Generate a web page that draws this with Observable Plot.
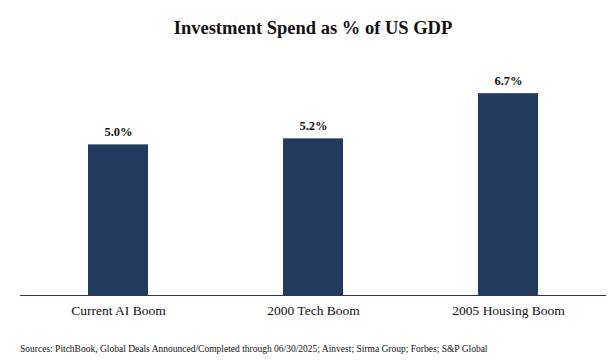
<!DOCTYPE html>
<html>
<head>
<meta charset="utf-8">
<script src="https://cdn.jsdelivr.net/npm/d3@7"></script>
<script src="https://cdn.jsdelivr.net/npm/@observablehq/plot@0.6"></script>
<style>
  body { margin: 0; background: #fff; font-family: "Liberation Serif", "DejaVu Serif", serif; }
  #wrap { width: 616px; height: 363px; position: relative; overflow: hidden; }
  #title { position: absolute; top: 0; left: 20px; width: 586px; height: 50px; line-height: 56px; text-align: center; font-weight: bold; font-size: 18.5px; color: #111; }
  #chart { position: absolute; top: 50px; left: 0; }
  #caption { position: absolute; top: 344px; left: 20px; font-size: 9.5px; color: #111; white-space: nowrap; }
</style>
</head>
<body>
<div id="wrap">
  <div id="title">Investment Spend as % of US GDP</div>
  <div id="chart"></div>
  <div id="caption">Sources: PitchBook, Global Deals Announced/Completed through 06/30/2025; Ainvest; Sirma Group; Forbes; S&amp;P Global</div>
</div>
<script>
const categories = ["Current AI Boom", "2000 Tech Boom", "2005 Housing Boom"];
const values = [5.0, 5.2, 6.7];
const labels = ["5.0%", "5.2%", "6.7%"];

const data = categories.map((c, i) => ({category: c, value: values[i], label: labels[i]}));
const navy = "#213a5d";

const plot = Plot.plot({
  width: 616,
  height: 280,
  marginTop: 4,
  marginBottom: 35,
  marginLeft: 20,
  marginRight: 10,
  style: {fontFamily: "'Liberation Serif', serif", fontSize: "13.5px", color: "#111", background: "transparent"},
  x: {domain: categories, paddingInner: 0.69, paddingOuter: 0.345, label: null, tickSize: 0, tickPadding: 10},
  y: {domain: [0, 8], axis: null},
  marks: [
    Plot.barY(data, {x: "category", y: "value", fill: navy}),
    Plot.text(data, {x: "category", y: "value", text: "label", dy: -13, fontWeight: "bold", fontSize: 12.5, fill: "#111"}),
    Plot.ruleY([0], {stroke: navy, strokeWidth: 1})
  ]
});
document.getElementById("chart").appendChild(plot);
</script>
</body>
</html>
